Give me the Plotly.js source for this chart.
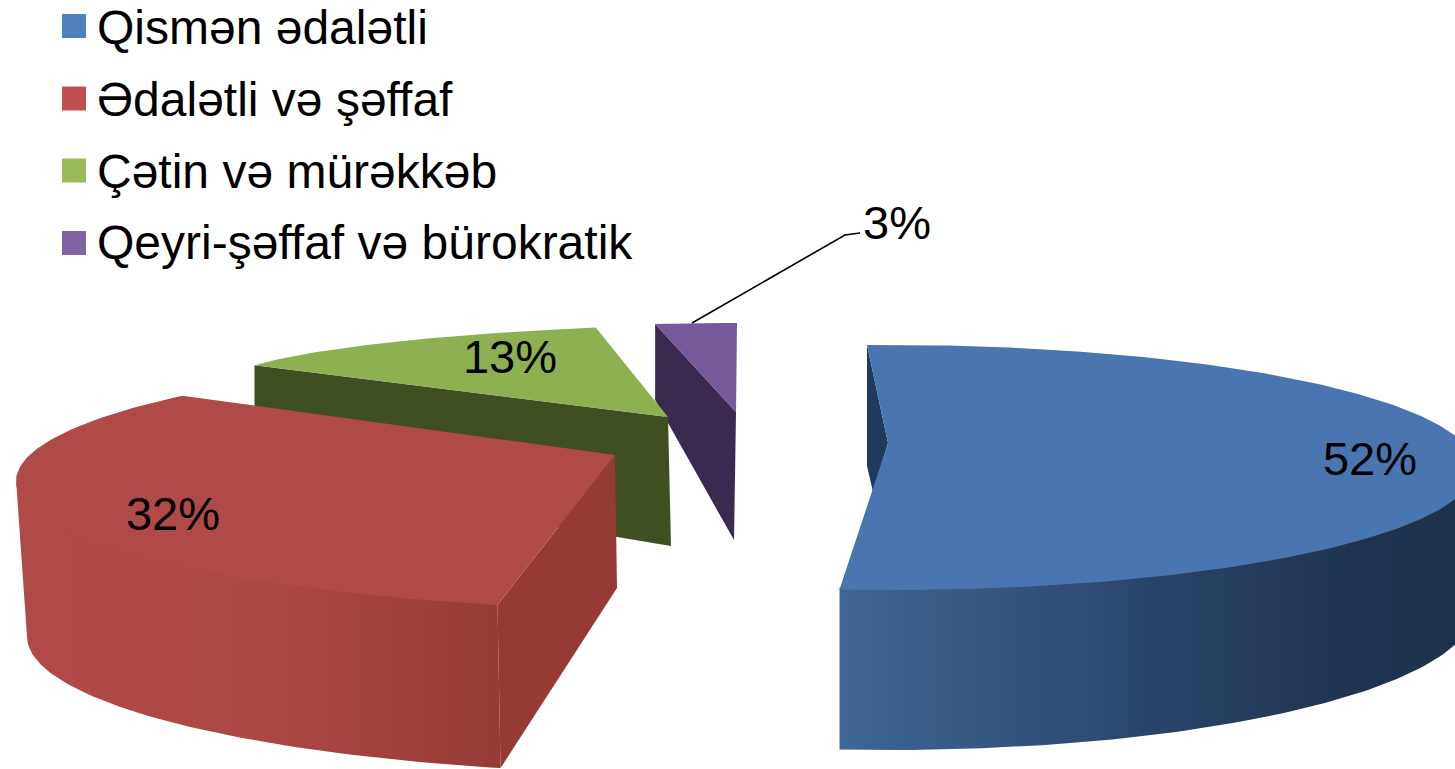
<!DOCTYPE html>
<html>
<head>
<meta charset="utf-8">
<script src="https://cdn.plot.ly/plotly-3.0.1.min.js"></script>
<style>html,body{margin:0;padding:0;background:#fff;overflow:hidden}#chart{width:1455px;height:769px}</style>
</head>
<body>
<div id="chart"></div>
<script>
// ---- data ----
const categories = ["Qismən ədalətli", "Ədalətli və şəffaf", "Çətin və mürəkkəb", "Qeyri-şəffaf və bürokratik"];
const values = [52, 32, 13, 3];

// ---- styling ----
const legendColors = ["#4f81bd", "#c0504d", "#9bbb59", "#8064a2"];
const topColors = ["#4976b1", "#b04a46", "#8fb050", "#75599a"];
const faceColors = ["#1f3a5c", "#963a36", "#3f4f22", "#3a2a50"];
const wallScales = [
  [[0, "#3f6696"], [0.5, "#2a4468"], [0.8, "#20344f"], [1, "#1f324c"]],
  [[0, "#b04a46"], [0.5, "#ac4844"], [1, "#963b37"]],
  null, null
];

// ---- projected geometry of the tilted, exploded pie (screen-space axes) ----
const geom = [
  {start: -2.25, top: [890, 467.5, 585, 122.5], bot: [890, 608, 585, 142], apex: [888, 443], apexB: [873, 492]},
  {start: 196.15, top: [683, 481, 667, 129], bot: [683, 636.5, 656, 137], apex: [615, 455], apexB: [617, 588]},
  {start: 289.6, top: [848, 387, 630, 65], bot: [848, 498, 630, 65], apex: [668, 417], apexB: [671, 546]},
  {start: 349.2, top: [737, 383, 437, 60], bot: [737, 459, 437, 60], apex: [736, 412], apexB: [734, 540]}
];
const labelPos = [[1370, 463], [173, 518], [510, 361], [897, 227]];
const leader = {x: [692, 845, 860], y: [323, 235, 233]};
const legendX = 74, legendY = [26, 98.5, 170.5, 243];
const legendTextX = 97, legendTextY = [32, 104, 176, 247];

const total = values.reduce((a, b) => a + b, 0);
const pt = (e, deg) => {
  const r = deg * Math.PI / 180;
  return [e[0] + e[2] * Math.sin(r), e[1] - e[3] * Math.cos(r)];
};
const arc = (e, a, b) => {
  const out = [], n = Math.max(2, Math.ceil(Math.abs(b - a)));
  for (let i = 0; i <= n; i++) out.push(pt(e, a + (b - a) * i / n));
  return out;
};
const poly = (pts, color, grad) => {
  const tr = {
    type: "scatter", mode: "lines", fill: "toself", hoverinfo: "skip", showlegend: false,
    x: pts.map(p => p[0]), y: pts.map(p => p[1]),
    line: {width: 0, color: color}, fillcolor: color
  };
  if (grad) tr.fillgradient = {type: "horizontal", colorscale: grad};
  return tr;
};

const traces = [];
// draw back to front: purple, green, red, blue
[3, 2, 1, 0].forEach(i => {
  const g = geom[i], sweep = values[i] / total * 360, end = g.start + sweep;
  // cut face
  traces.push(poly([pt(g.top, g.start), g.apex, g.apexB, pt(g.bot, g.start)], faceColors[i]));
  // outer wall, only the part that faces the viewer; its upper edge tucks under the top surface
  if (wallScales[i]) {
    const a = Math.max(g.start, 90), b = Math.min(end, 270);
    const tucked = [g.top[0], g.top[1] - 2, g.top[2], g.top[3]];
    traces.push(poly(arc(tucked, a, b).concat(arc(g.bot, b, a)), wallScales[i][0][1], wallScales[i]));
  }
  // top surface
  traces.push(poly(arc(g.top, g.start, end).concat([g.apex]), topColors[i]));
});

// leader line for the smallest slice
traces.push({type: "scatter", mode: "lines", x: leader.x, y: leader.y, hoverinfo: "skip", showlegend: false,
  line: {color: "#000", width: 1.6}});

// percentage labels
traces.push({type: "scatter", mode: "text", hoverinfo: "skip", showlegend: false,
  x: labelPos.map(p => p[0]), y: labelPos.map(p => p[1]),
  text: values.map(v => v + "%"), textposition: "middle center",
  textfont: {family: "Liberation Sans, Arial, sans-serif", size: 47, color: "#000"}});

// legend swatches and entries
traces.push({type: "scatter", mode: "markers", hoverinfo: "skip", showlegend: false,
  x: categories.map(() => legendX), y: legendY,
  marker: {symbol: "square", size: 24, color: legendColors, line: {width: 0}}});
traces.push({type: "scatter", mode: "text", hoverinfo: "skip", showlegend: false,
  x: categories.map(() => legendTextX), y: legendTextY,
  text: categories, textposition: "middle right",
  textfont: {family: "Liberation Sans, Arial, sans-serif", size: 48, color: "#000"}});

Plotly.newPlot("chart", traces, {
  width: 1455, height: 769, margin: {l: 0, r: 0, t: 0, b: 0},
  paper_bgcolor: "#fff", plot_bgcolor: "#fff", showlegend: false,
  xaxis: {range: [0, 1455], visible: false, fixedrange: true},
  yaxis: {range: [769, 0], visible: false, fixedrange: true}
}, {displayModeBar: false, staticPlot: true});
</script>
</body>
</html>
